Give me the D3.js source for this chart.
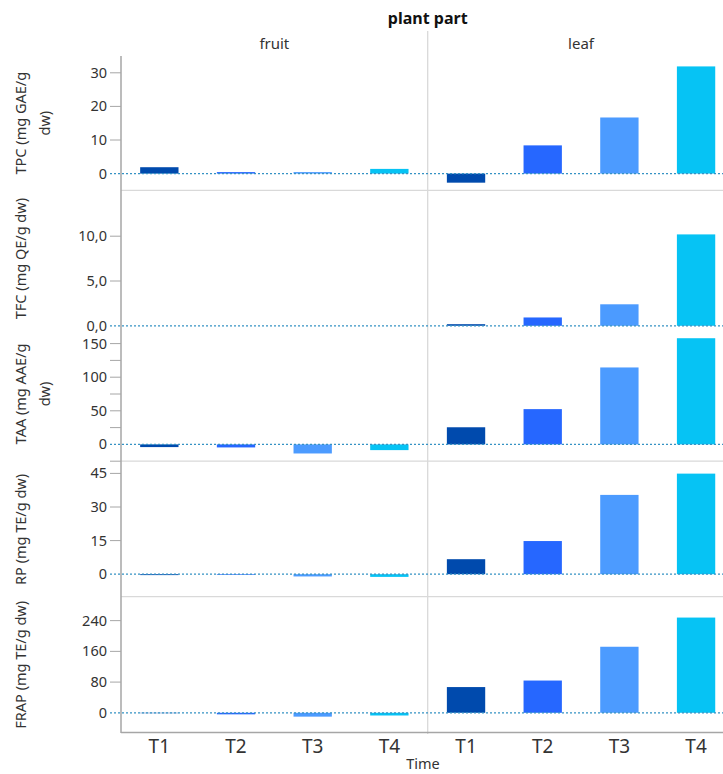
<!DOCTYPE html>
<html>
<head>
<meta charset="utf-8">
<script src="https://cdn.jsdelivr.net/npm/d3@7"></script>
<style>
  html, body { margin: 0; padding: 0; background: #fff; }
  svg { display: block; font-family: "Noto Sans", "Open Sans", sans-serif; }
</style>
</head>
<body>
<svg id="chart" width="723" height="774"></svg>
<script>
// Facets and categories
const plantParts = ["fruit", "leaf"];
const times = ["T1", "T2", "T3", "T4"];
const timeColors = ["#004aad", "#2667ff", "#4c9bff", "#06c3f4"];

// Measured responses, one row per panel
const metricNames = ["TPC", "TFC", "TAA", "RP", "FRAP"];
const metricTitles = [
  ["TPC (mg GAE/g", "dw)"],
  ["TFC (mg QE/g dw)"],
  ["TAA (mg AAE/g", "dw)"],
  ["RP (mg TE/g dw)"],
  ["FRAP (mg TE/g dw)"]
];

// Values per time point: [T1, T2, T3, T4]
const tpcFruit  = [1.9, 0.45, 0.45, 1.4];
const tpcLeaf   = [-2.7, 8.4, 16.7, 31.9];
const tfcFruit  = [0, 0, 0, 0];
const tfcLeaf   = [0.18, 0.93, 2.4, 10.2];
const taaFruit  = [-4, -4.5, -13.5, -8.5];
const taaLeaf   = [25.5, 52.5, 114.5, 158];
const rpFruit   = [-0.4, -0.3, -1.0, -1.2];
const rpLeaf    = [6.7, 14.8, 35.4, 44.9];
const frapFruit = [-1, -4, -10, -7];
const frapLeaf  = [67, 84, 172, 248];

// Axis ranges and tick values
const yDomains = [[-5, 35], [0, 15], [-25, 175], [-10, 50], [-50, 300]];
const majorTicks = [[0, 10, 20, 30], [0, 5, 10], [0, 50, 100, 150], [0, 15, 30, 45], [0, 80, 160, 240]];
const minorTicks = [[], [], [-25, 25, 75, 125], [], []];
const tickDecimals = [0, 1, 0, 0, 0];

const seriesValues = [
  [tpcFruit, tpcLeaf],
  [tfcFruit, tfcLeaf],
  [taaFruit, taaLeaf],
  [rpFruit, rpLeaf],
  [frapFruit, frapLeaf]
];

const svg = d3.select("#chart");

// Layout
const axisX = 121;
const facetW = 306.7;
const panelTop0 = 56;
const panelStep = 135.4;
const panelH = 134.4;
const plotBottom = panelTop0 + 4 * panelStep + panelH;
const rightX = axisX + 2 * facetW;

const locale = d3.formatLocale({ decimal: ",", thousands: ".", grouping: [3], currency: ["", ""] });

const facetX = d3.scaleBand().domain(plantParts).range([axisX, rightX]);
const xInner = d3.scaleBand().domain(times).range([0, facetW]).paddingInner(0.5).paddingOuter(0.25);
const color = d3.scaleOrdinal().domain(times).range(timeColors);

const textColor = "#333333";
const frameColor = "#a6a6a6";
const sepColor = "#d9d9d9";
const zeroColor = "#3592c4";

// Header
svg.append("text")
  .attr("x", axisX + facetW).attr("y", 24)
  .attr("text-anchor", "middle")
  .attr("font-size", 16).attr("font-weight", "bold").attr("fill", "#111")
  .text("plant part");

plantParts.forEach(p => {
  svg.append("text")
    .attr("x", facetX(p) + facetW / 2).attr("y", 49)
    .attr("text-anchor", "middle")
    .attr("font-size", 15).attr("fill", textColor)
    .text(p);
});

// Facet divider
svg.append("line")
  .attr("x1", axisX + facetW).attr("x2", axisX + facetW)
  .attr("y1", 31).attr("y2", plotBottom + 2)
  .attr("stroke", sepColor).attr("stroke-width", 1.3);

metricNames.forEach((m, i) => {
  const top = panelTop0 + i * panelStep;
  const y = d3.scaleLinear().domain(yDomains[i]).range([top + panelH, top]);
  const g = svg.append("g").attr("class", "panel-" + m);
  const fmt = tickDecimals[i] ? v => locale.format(",." + tickDecimals[i] + "f")(v) : d3.format("d");

  // Panel separator below, except where the zero line sits on the edge
  if (i < metricNames.length - 1 && yDomains[i][0] !== 0) {
    g.append("line")
      .attr("x1", axisX).attr("x2", rightX)
      .attr("y1", top + panelH).attr("y2", top + panelH)
      .attr("stroke", sepColor).attr("stroke-width", 1.3);
  }

  // Bars
  plantParts.forEach((p, pi) => {
    const vals = seriesValues[i][pi];
    g.selectAll(null)
      .data(times.map((t, k) => ({ t, v: vals[k] })))
      .join("rect")
      .attr("x", d => facetX(p) + xInner(d.t))
      .attr("width", xInner.bandwidth())
      .attr("y", d => y(Math.max(0, d.v)))
      .attr("height", d => Math.abs(y(d.v) - y(0)))
      .attr("fill", d => color(d.t));
  });

  // Y ticks and labels
  const tg = g.append("g");
  const nonZeroTicks = majorTicks[i].filter(v => v !== 0).concat(minorTicks[i]);
  tg.selectAll("line.tick")
    .data(nonZeroTicks)
    .join("line")
    .attr("x1", axisX - 11).attr("x2", axisX)
    .attr("y1", d => y(d)).attr("y2", d => y(d))
    .attr("stroke", frameColor).attr("stroke-width", 1);
  tg.selectAll("text")
    .data(majorTicks[i])
    .join("text")
    .attr("x", axisX - 14)
    .attr("y", d => y(d))
    .attr("dy", "0.35em")
    .attr("text-anchor", "end")
    .attr("font-size", 14.5).attr("fill", textColor)
    .text(d => fmt(d));

  // Zero reference line
  g.append("line")
    .attr("x1", axisX - 11).attr("x2", rightX)
    .attr("y1", y(0)).attr("y2", y(0))
    .attr("stroke", zeroColor).attr("stroke-width", 1.3)
    .attr("stroke-dasharray", "2,2");

  // Y axis title
  const lines = metricTitles[i];
  const cy = top + panelH / 2;
  lines.forEach((ln, li) => {
    svg.append("text")
      .attr("transform", `translate(${21 + li * 24},${cy}) rotate(-90)`)
      .attr("text-anchor", "middle")
      .attr("dy", "0.35em")
      .attr("font-size", 14.5).attr("fill", textColor)
      .text(ln);
  });
});

// Left axis line and bottom axis line
svg.append("line")
  .attr("x1", axisX).attr("x2", axisX)
  .attr("y1", panelTop0).attr("y2", plotBottom + 1)
  .attr("stroke", frameColor).attr("stroke-width", 1.5);
svg.append("line")
  .attr("x1", axisX).attr("x2", rightX)
  .attr("y1", plotBottom + 0.5).attr("y2", plotBottom + 0.5)
  .attr("stroke", frameColor).attr("stroke-width", 1.5);

// X tick labels
plantParts.forEach(p => {
  svg.append("g")
    .selectAll("text")
    .data(times)
    .join("text")
    .attr("x", t => facetX(p) + xInner(t) + xInner.bandwidth() / 2)
    .attr("y", plotBottom + 21)
    .attr("text-anchor", "middle")
    .attr("font-size", 19).attr("fill", textColor)
    .text(t => t);
});

svg.append("text")
  .attr("x", 423).attr("y", plotBottom + 37)
  .attr("text-anchor", "middle")
  .attr("font-size", 14.5).attr("fill", textColor)
  .text("Time");
</script>
</body>
</html>
